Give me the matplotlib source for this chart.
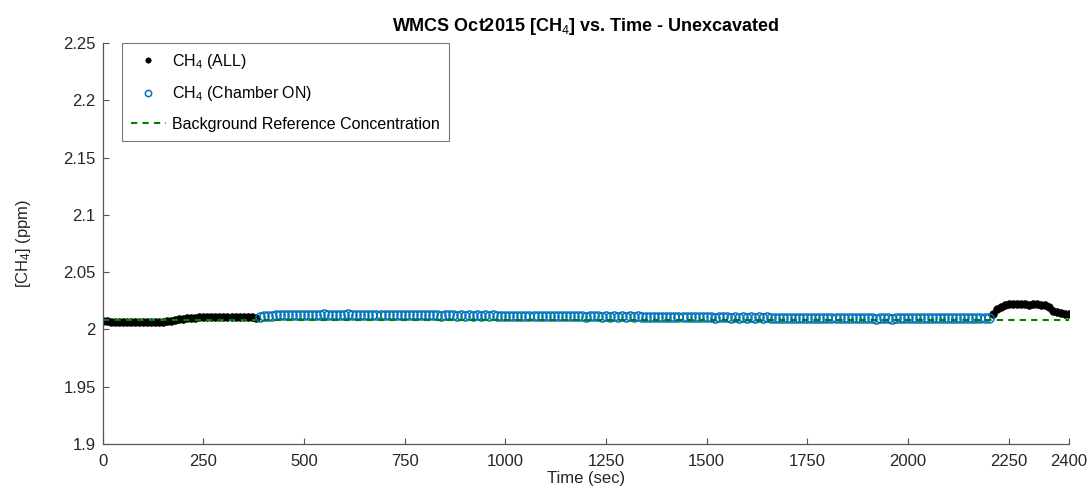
import numpy as np
import matplotlib
matplotlib.use('Agg')
import matplotlib.pyplot as plt

plt.rcParams['font.family'] = ['Liberation Sans', 'DejaVu Sans']
plt.rcParams['mathtext.fontset'] = 'custom'
plt.rcParams['mathtext.rm'] = 'Liberation Sans'
plt.rcParams['mathtext.it'] = 'Liberation Sans'

# CH4 readings, sampled every 10 s
t_pre = np.arange(0, 390, 10)
ch4_pre = [2.0075, 2.0072, 2.0068, 2.0066, 2.0065, 2.0066, 2.0064, 2.0065, 2.0063, 2.0064,
           2.0062, 2.0063, 2.0061, 2.0062, 2.0064, 2.0066, 2.0070, 2.0076, 2.0082, 2.0088,
           2.0092, 2.0096, 2.0101, 2.0104, 2.0108, 2.0110, 2.0111, 2.0109, 2.0107, 2.0108,
           2.0110, 2.0109, 2.0107, 2.0108, 2.0106, 2.0107, 2.0105, 2.0106, 2.0104]

t_on = np.arange(390, 2210, 10)
ch4_on = [2.0112, 2.0118, 2.0121, 2.0119, 2.0124, 2.0122, 2.0126, 2.0123, 2.0127, 2.0124, 2.0128,
          2.0125, 2.0129, 2.0126, 2.0130, 2.0127, 2.0131, 2.0128, 2.0130, 2.0126, 2.0129,
          2.0127, 2.0131, 2.0128, 2.0130, 2.0126, 2.0129, 2.0127, 2.0130, 2.0125, 2.0128,
          2.0126, 2.0129, 2.0124, 2.0128, 2.0125, 2.0127, 2.0123, 2.0127, 2.0124, 2.0126,
          2.0122, 2.0126, 2.0123, 2.0125, 2.0121, 2.0125, 2.0122, 2.0124, 2.0120, 2.0123,
          2.0121, 2.0124, 2.0119, 2.0123, 2.0120, 2.0122, 2.0118, 2.0122, 2.0119, 2.0121,
          2.0117, 2.0121, 2.0118, 2.0120, 2.0116, 2.0120, 2.0117, 2.0119, 2.0115, 2.0119,
          2.0116, 2.0118, 2.0114, 2.0118, 2.0115, 2.0117, 2.0113, 2.0117, 2.0114, 2.0116,
          2.0112, 2.0116, 2.0113, 2.0115, 2.0111, 2.0115, 2.0112, 2.0114, 2.0110, 2.0114,
          2.0111, 2.0113, 2.0109, 2.0113, 2.0110, 2.0112, 2.0108, 2.0112, 2.0109, 2.0111,
          2.0107, 2.0111, 2.0108, 2.0110, 2.0106, 2.0110, 2.0107, 2.0109, 2.0105, 2.0109,
          2.0106, 2.0108, 2.0104, 2.0108, 2.0105, 2.0107, 2.0103, 2.0107, 2.0104, 2.0106,
          2.0102, 2.0106, 2.0103, 2.0105, 2.0101, 2.0105, 2.0102, 2.0104, 2.0100, 2.0104,
          2.0101, 2.0103, 2.0099, 2.0103, 2.0100, 2.0102, 2.0098, 2.0102, 2.0099, 2.0101,
          2.0097, 2.0101, 2.0098, 2.0100, 2.0096, 2.0100, 2.0097, 2.0099, 2.0096, 2.0099,
          2.0096, 2.0099, 2.0095, 2.0099, 2.0096, 2.0098, 2.0095, 2.0099, 2.0096, 2.0098,
          2.0097, 2.0100, 2.0096, 2.0100, 2.0097, 2.0099, 2.0096, 2.0100, 2.0097, 2.0099,
          2.0098, 2.0101, 2.0097, 2.0101, 2.0098, 2.0100, 2.0097, 2.0101, 2.0098, 2.0100,
          2.0099]

t_post = np.arange(2210, 2410, 10)
ch4_post = [2.0135, 2.0175, 2.0200, 2.0212, 2.0218, 2.0220, 2.0221, 2.0219, 2.0218, 2.0217,
            2.0218, 2.0219, 2.0217, 2.0210, 2.0195, 2.0165, 2.0150, 2.0142, 2.0138, 2.0136]

bg_time = [0, 2400]
bg_ref = 2.008

y_ticks = [1.9, 1.95, 2.0, 2.05, 2.1, 2.15, 2.2, 2.25]
y_ticklabels = ['1.9', '1.95', '2', '2.05', '2.1', '2.15', '2.2', '2.25']
x_ticks = [0, 250, 500, 750, 1000, 1250, 1500, 1750, 2000, 2250, 2400]

fig = plt.figure(figsize=(10.91, 4.87), dpi=100)
ax = fig.add_axes([0.0941, 0.0883, 0.8858, 0.8234])

t_all = np.concatenate([t_pre, t_post])
ch4_all = ch4_pre + ch4_post
ax.plot(t_all, ch4_all, 'o', color='black', markersize=5.5, markeredgewidth=0.5,
        label=r'CH$_4$ (ALL)')
ax.plot(t_on, ch4_on, 'o', markerfacecolor='none', markeredgecolor='#0072BD',
        markersize=6.5, markeredgewidth=1.1, label=r'CH$_4$ (Chamber ON)')
ax.plot(bg_time, [bg_ref, bg_ref], '--', color='#008000', linewidth=1.5,
        dashes=(3, 2.5), label='Background Reference Concentration')

ax.set_xlim(0, 2400)
ax.set_ylim(1.9, 2.25)
ax.set_xticks(x_ticks)
ax.set_yticks(y_ticks)
ax.set_yticklabels(y_ticklabels)

for side in ['top', 'right']:
    ax.spines[side].set_visible(False)
for side in ['left', 'bottom']:
    ax.spines[side].set_color('#555555')
    ax.spines[side].set_linewidth(0.9)
ax.tick_params(direction='in', length=4, width=0.8, color='#555555',
               labelsize=12, labelcolor='#262626')
ax.tick_params(axis='x', pad=7)
ax.tick_params(axis='y', pad=5)

ax.set_title(r'WMCS Oct2015 [CH$_4$] vs. Time - Unexcavated', fontsize=13,
             fontweight='bold', pad=9)
ax.set_xlabel('Time (sec)', fontsize=12, color='#262626', labelpad=2)
ax.set_ylabel(r'[CH$_4$] (ppm)', fontsize=12, color='#262626', labelpad=22)

leg = ax.legend(loc='upper left', bbox_to_anchor=(0.02, 1.0), borderaxespad=0,
                fontsize=11.5, frameon=True, fancybox=False, labelspacing=0.85,
                handlelength=2.2, handletextpad=0.4, borderpad=0.55, markerscale=0.7)
leg.get_frame().set_edgecolor('#555555')
leg.get_frame().set_linewidth(0.8)

fig.savefig('out.png', dpi=100)
